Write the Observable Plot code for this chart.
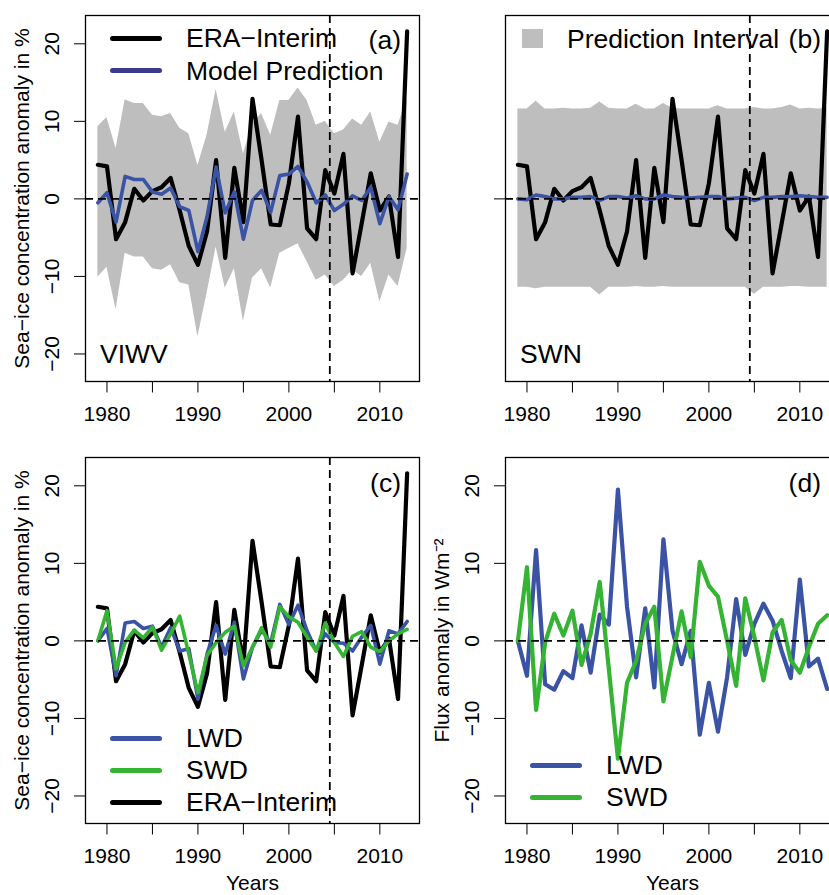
<!DOCTYPE html>
<html>
<head>
<meta charset="utf-8">
<script src="https://cdn.jsdelivr.net/npm/d3@7"></script>
<script src="https://cdn.jsdelivr.net/npm/@observablehq/plot@0.6"></script>
<style>
  html, body { margin: 0; padding: 0; background: #fff; }
  #fig { position: relative; width: 829px; height: 895px; overflow: hidden; background: #fff;
         font-family: "Liberation Sans", Arial, Helvetica, sans-serif; }
  .panel { position: absolute; width: 425px; }
  .panel svg { max-width: none !important; }
  .sw { position: absolute; height: 5px; width: 52px; border-radius: 3px; }
  .lg { position: absolute; font-size: 26.5px; line-height: 30px; white-space: nowrap; color: #000; }
</style>
</head>
<body>
<div id="fig"></div>
<script>
// ---------------- data ----------------
const years = [1979,1980,1981,1982,1983,1984,1985,1986,1987,1988,1989,1990,1991,1992,1993,1994,1995,1996,1997,1998,1999,2000,2001,2002,2003,2004,2005,2006,2007,2008,2009,2010,2011,2012,2013];

// ERA-Interim sea-ice concentration anomaly (%)
const eraInterim = [4.4,4.2,-5.2,-3.0,1.3,-0.2,1.0,1.5,2.7,-1.5,-6.1,-8.5,-4.2,5.0,-7.6,4.0,-3.0,12.9,5.0,-3.3,-3.4,2.0,10.6,-3.8,-5.2,3.7,0.7,5.8,-9.6,-3.2,3.3,-1.5,0.3,-7.5,21.6];

// (a) VIWV model prediction and prediction interval
const viwvPred  = [-0.5,0.8,-3.0,2.9,2.5,2.5,0.9,0.6,1.4,-1.0,-1.5,-6.8,-2.3,4.1,-1.8,0.9,-5.2,-0.2,1.1,-1.7,3.0,3.2,4.2,2.2,-0.5,0.5,-1.5,-0.7,0.4,-0.2,1.5,-3.2,0.3,-1.4,3.2];
const viwvUpper = [9.3,10.5,6.5,12.8,12.3,12.3,10.8,10.6,11.0,9.1,8.4,4.3,8.2,14.1,8.6,11.2,5.8,9.7,11.0,8.2,12.7,12.7,14.3,12.7,9.5,10.0,8.4,8.9,10.3,9.5,11.2,7.3,9.9,9.5,12.9];
const viwvLower = [-10.1,-8.8,-14.3,-7.0,-7.5,-7.5,-9.0,-9.2,-8.5,-10.8,-11.1,-17.8,-12.2,-6.2,-11.5,-9.0,-15.8,-10.2,-9.0,-11.5,-7.0,-6.4,-5.8,-8.1,-10.5,-9.8,-11.3,-10.5,-9.2,-10.0,-8.3,-13.3,-9.8,-11.3,-6.4];

// (b) SWN model prediction and prediction interval
const swnPred  = [0.0,-0.1,0.5,0.3,0.0,0.0,0.2,0.2,0.3,-0.2,0.3,0.3,0.1,0.4,0.0,0.0,0.5,0.3,0.2,0.1,0.2,0.3,0.3,0.0,0.1,0.2,-0.2,0.2,0.2,0.3,0.3,0.4,0.3,0.2,0.2];
const swnUpper = [11.6,11.6,12.6,11.6,11.6,11.7,11.6,11.6,11.7,12.5,11.7,11.6,11.6,12.2,11.6,11.6,12.3,11.7,11.6,11.6,11.6,11.6,12.0,11.6,11.6,11.6,11.8,11.6,11.6,11.8,12.1,11.6,11.7,11.6,11.7];
const swnLower = [-11.4,-11.4,-11.6,-11.4,-11.4,-11.4,-11.4,-11.4,-11.4,-12.4,-11.4,-11.4,-11.4,-11.3,-11.4,-11.4,-11.3,-11.4,-11.4,-11.4,-11.4,-11.4,-11.4,-11.4,-11.4,-11.4,-12.3,-11.4,-11.4,-11.4,-11.3,-11.3,-11.4,-11.4,-11.4];

// (c) sea-ice anomaly predicted from LWD and SWD (%)
const lwdIce = [0.0,1.6,-4.5,2.3,2.5,1.6,1.9,-0.8,1.7,-1.3,-1.0,-7.5,-1.7,2.0,-1.7,2.4,-4.9,-0.8,1.4,-0.3,4.7,2.1,4.6,1.3,-1.3,0.9,-0.2,-0.3,-1.3,0.5,2.0,-3.0,1.3,0.9,2.5];
const swdIce = [0.0,3.9,-3.6,-0.2,1.4,0.4,1.8,-1.2,0.9,3.2,-1.7,-6.7,-1.9,-0.2,1.1,1.9,-3.2,-0.8,1.7,-0.8,4.4,3.1,2.4,0.5,-1.3,2.3,-0.2,-2.0,0.6,1.2,-0.8,-1.4,0.0,0.9,1.5];

// (d) flux anomaly (W m^-2)
const lwdFlux = [0.0,-4.5,11.7,-5.6,-6.3,-3.9,-4.8,2.0,-4.1,3.4,2.1,19.5,4.4,-4.7,4.2,-6.0,13.1,1.3,-3.0,1.3,-12.1,-5.4,-11.7,-4.7,5.4,-1.8,2.2,4.8,2.6,-1.3,-4.8,7.9,-3.3,-2.3,-6.2];
const swdFlux = [0.0,9.5,-8.9,-0.2,3.5,0.7,3.9,-3.1,0.9,7.6,-3.6,-15.2,-5.4,-2.6,2.2,4.4,-7.8,-2.0,3.8,-2.1,10.2,7.1,5.7,0.0,-5.8,5.5,0.5,-5.1,1.1,2.7,-2.5,-4.1,-0.8,2.2,3.3];

const xTicks = [1980,1985,1990,1995,2000,2005,2010];
const yTicks = [-20,-10,0,10,20];
const cutYear = 2004.5;
const xDomain = [1977.64, 2014.36];
const yDomain = [-23.55, 23.65];

const seriesLabels = {era: "ERA\u2212Interim", model: "Model Prediction", pi: "Prediction Interval", lwd: "LWD", swd: "SWD"};
const panelTags = ["(a)", "(b)", "(c)", "(d)"];
const predictorNames = ["VIWV", "SWN"];
const yTitleIce = "Sea\u2212ice concentration anomaly in %";
const yTitleFlux = "Flux anomaly in Wm\u207B\u00B2";
const xTitle = "Years";

// ---------------- styles ----------------
const FONT = '"Liberation Sans", Arial, Helvetica, sans-serif';
const BLACK = "#000000";
const BLUE = "#3a53a4";
const BLUE_KEY = "#3b3a8c";
const GREEN = "#35b434";
const GREY = "#bebebe";

const rows = years.map((y, i) => ({
  year: y, era: eraInterim[i],
  vp: viwvPred[i], vu: viwvUpper[i], vl: viwvLower[i],
  sp: swnPred[i], su: swnUpper[i], sl: swnLower[i],
  li: lwdIce[i], si: swdIce[i], lf: lwdFlux[i], sf: swdFlux[i]
}));

const fmt = d => d < 0 ? "\u2212" + Math.abs(d) : String(d);

function panel({height, marginTop, marginBottom, yTickVals, yLabels, yTitle, showXTitle, marks}) {
  const extra = [];
  extra.push(Plot.frame({stroke: BLACK, strokeWidth: 1.3}));
  if (yLabels) extra.push(Plot.text(yTickVals, {y: d => d, text: fmt, frameAnchor: "left", textAnchor: "middle", lineAnchor: "middle", dx: -33, rotate: -90, fontSize: 21, fill: BLACK}));
  if (yTitle) extra.push(Plot.text([yTitle], {text: d => d, frameAnchor: "left", textAnchor: "middle", lineAnchor: "middle", dx: -63, rotate: -90, fontSize: 21, fill: BLACK}));
  if (showXTitle) extra.push(Plot.text([xTitle], {text: d => d, frameAnchor: "bottom", textAnchor: "middle", lineAnchor: "middle", dy: 60, fontSize: 21, fill: BLACK}));
  return Plot.plot({
    width: 425, height,
    marginLeft: 85, marginRight: 6, marginTop, marginBottom,
    style: {fontFamily: FONT, fontSize: "21px", background: "transparent", color: BLACK, overflow: "visible", maxWidth: "none"},
    x: {domain: xDomain, ticks: xTicks, tickSize: 11.5, tickPadding: 13, tickFormat: d => d % 10 === 0 ? String(d) : "", label: null},
    y: {domain: yDomain, ticks: yTickVals, tickSize: 11, tickFormat: () => "", label: null},
    marks: [...marks, ...extra]
  });
}

const fig = document.getElementById("fig");
function place(node, left, top) {
  const d = document.createElement("div");
  d.className = "panel"; d.style.left = left + "px"; d.style.top = top + "px";
  d.appendChild(node); fig.appendChild(d);
}
function lineKey(x, y, color, label) {
  const s = document.createElement("div"); s.className = "sw";
  s.style.left = x + "px"; s.style.top = (y - 2.5) + "px"; s.style.background = color;
  fig.appendChild(s);
  const t = document.createElement("div"); t.className = "lg";
  t.style.left = (x + 76) + "px"; t.style.top = (y - 15) + "px"; t.textContent = label;
  fig.appendChild(t);
}
function label(text, y, {left, right}) {
  const t = document.createElement("div"); t.className = "lg";
  if (left != null) t.style.left = left + "px";
  if (right != null) t.style.right = right + "px";
  t.style.top = (y - 15) + "px"; t.textContent = text;
  fig.appendChild(t);
}

const hzero = Plot.ruleY([0], {stroke: BLACK, strokeWidth: 1.8, strokeDasharray: "8,5"});
const vcut = Plot.ruleX([cutYear], {stroke: BLACK, strokeWidth: 1.8, strokeDasharray: "8,5"});

// (a)
place(panel({
  height: 450, marginTop: 15, marginBottom: 69, yTickVals: yTicks, yLabels: true, yTitle: yTitleIce,
  marks: [
    Plot.areaY(rows, {x: "year", y1: "vl", y2: "vu", fill: GREY}),
    Plot.line(rows, {x: "year", y: "era", stroke: BLACK, strokeWidth: 4.2}),
    Plot.line(rows, {x: "year", y: "vp", stroke: BLUE, strokeWidth: 3.6}),
    hzero, vcut
  ]
}), 0, 0);

// (b)
place(panel({
  height: 450, marginTop: 15, marginBottom: 69, yTickVals: [0], yLabels: false, yTitle: null,
  marks: [
    Plot.areaY(rows, {x: "year", y1: "sl", y2: "su", fill: GREY}),
    Plot.line(rows, {x: "year", y: "era", stroke: BLACK, strokeWidth: 4.2}),
    Plot.line(rows, {x: "year", y: "sp", stroke: BLUE, strokeWidth: 3.6}),
    hzero, vcut
  ]
}), 420, 0);

// (c)
place(panel({
  height: 455, marginTop: 17, marginBottom: 72, yTickVals: yTicks, yLabels: true, yTitle: yTitleIce, showXTitle: true,
  marks: [
    Plot.line(rows, {x: "year", y: "era", stroke: BLACK, strokeWidth: 4.2}),
    Plot.line(rows, {x: "year", y: "li", stroke: BLUE, strokeWidth: 3.6}),
    Plot.line(rows, {x: "year", y: "si", stroke: GREEN, strokeWidth: 3.6}),
    hzero, vcut
  ]
}), 0, 440);

// (d)
place(panel({
  height: 455, marginTop: 17, marginBottom: 72, yTickVals: yTicks, yLabels: true, yTitle: yTitleFlux, showXTitle: true,
  marks: [
    Plot.line(rows, {x: "year", y: "lf", stroke: BLUE, strokeWidth: 4.2}),
    Plot.line(rows, {x: "year", y: "sf", stroke: GREEN, strokeWidth: 4.2}),
    hzero
  ]
}), 420, 440);

// legends and panel labels
lineKey(110, 38, BLACK, seriesLabels.era);
lineKey(110, 70.5, BLUE_KEY, seriesLabels.model);
label(panelTags[0], 40, {right: 829 - 401});
label(predictorNames[0], 354, {left: 100});

const sq = document.createElement("div");
Object.assign(sq.style, {position: "absolute", left: "522px", top: "29px", width: "21px", height: "19px", background: GREY});
fig.appendChild(sq);
label(seriesLabels.pi, 39, {left: 567});
label(panelTags[1], 39, {right: 829 - 821});
label(predictorNames[1], 354, {left: 520});

lineKey(110, 738, BLUE, seriesLabels.lwd);
lineKey(110, 770, GREEN, seriesLabels.swd);
lineKey(110, 802, BLACK, seriesLabels.era);
label(panelTags[2], 483, {right: 829 - 401});

lineKey(530, 765, BLUE, seriesLabels.lwd);
lineKey(530, 797, GREEN, seriesLabels.swd);
label(panelTags[3], 483, {right: 829 - 821});
</script>
</body>
</html>
